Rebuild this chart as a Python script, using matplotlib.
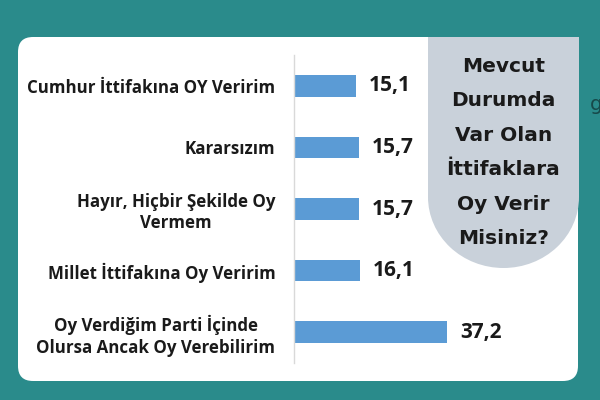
import matplotlib.pyplot as plt
from matplotlib.patches import FancyBboxPatch, Rectangle, Ellipse

categories = [
    'Cumhur İttifakına OY Veririm',
    'Kararsızım',
    'Hayır, Hiçbir Şekilde Oy\nVermem',
    'Millet İttifakına Oy Veririm',
    'Oy Verdiğim Parti İçinde\nOlursa Ancak Oy Verebilirim',
]
values = [15.1, 15.7, 15.7, 16.1, 37.2]
value_labels = ['15,1', '15,7', '15,7', '16,1', '37,2']
title_lines = ['Mevcut', 'Durumda', 'Var Olan', 'İttifaklara', 'Oy Verir', 'Misiniz?']

teal = '#2a8b8b'
bar_color = '#5b9bd5'
box_gray = '#c9d1da'
ink = '#1a1a1a'

fig = plt.figure(figsize=(6, 4), dpi=100)
fig.patch.set_facecolor(teal)

# white card (pixel coords, origin bottom-left)
card = FancyBboxPatch((18, 19), 560, 344, boxstyle='round,pad=0,rounding_size=15',
                      transform=None, fc='white', ec='none', zorder=-1)
fig.add_artist(card)

# partly hidden text at the right edge (cut off in the original too)
fig.text(590 / 600, 1 - 110 / 400, 'g', color='#17494a', fontsize=14.5,
         family='DejaVu Sans', ha='left', va='baseline')

ax = fig.add_axes([294 / 600, 37 / 400, 306 / 600, 308 / 400])
ax.set_facecolor('none')
ax.barh(range(len(values)), values, height=0.35, color=bar_color)
ax.set_xlim(0, 306 / 4.11)
ax.set_ylim(len(values) - 0.5, -0.5)

for s in ['top', 'right', 'bottom']:
    ax.spines[s].set_visible(False)
ax.spines['left'].set_color('#d9d9d9')
ax.spines['left'].set_linewidth(1)
ax.set_xticks([])
ax.set_yticks(range(len(categories)))
ax.set_yticklabels(categories, family='Open Sans', fontweight='bold', fontsize=12.2, color=ink)
ax.tick_params(axis='y', length=0, pad=13.5)
for t in ax.get_yticklabels():
    t.set_multialignment('center')
    t.set_linespacing(1.25)

for i, (v, lab) in enumerate(zip(values, value_labels)):
    ax.annotate(lab, (v, i), xytext=(13, 0), textcoords='offset pixels',
                ha='left', va='center', family='Open Sans', fontweight='bold',
                fontsize=15, color=ink)

# gray question box with rounded bottom
rect = Rectangle((428, 203), 151, 160, transform=None, fc=box_gray, ec='none', zorder=2)
ell = Ellipse((503.5, 203), 151, 142, transform=None, fc=box_gray, ec='none', zorder=2)
fig.add_artist(rect)
fig.add_artist(ell)
for k, line in enumerate(title_lines):
    fig.text(503.5 / 600, 1 - (72 + 34.4 * k) / 400, line, ha='center', va='baseline',
             family='DejaVu Sans', fontweight='bold', fontsize=14.5, color=ink, zorder=3)

fig.savefig('out.png', dpi=100, facecolor=teal)
